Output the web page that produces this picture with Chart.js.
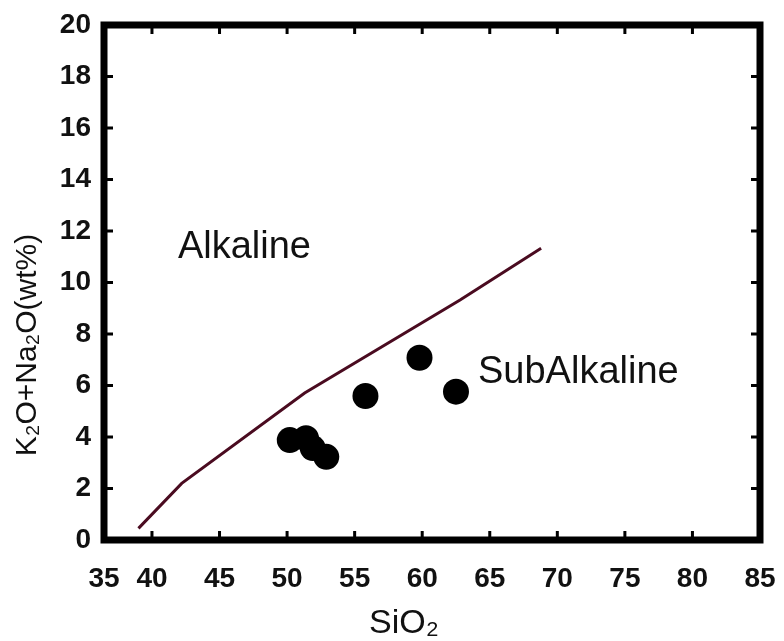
<!DOCTYPE html>
<html>
<head>
<meta charset="utf-8">
<script src="https://cdn.jsdelivr.net/npm/chart.js@4.4.1/dist/chart.umd.min.js"></script>
<style>
  html, body { margin: 0; padding: 0; background: #fff; }
  #wrap { width: 784px; height: 641px; }
</style>
</head>
<body>
<div id="wrap"><canvas id="tasChart"></canvas></div>
<script>
// SiO2 vs total alkali samples
const sampleSiO2 = [50.2, 51.4, 51.9, 52.9, 55.8, 59.8, 62.5];
const sampleAlkali = [3.88, 3.95, 3.57, 3.23, 5.59, 7.08, 5.76];

// alkaline / subalkaline dividing line
const divideSiO2 = [39.0, 42.2, 51.3, 62.8, 68.8];
const divideAlkali = [0.45, 2.2, 5.71, 9.32, 11.33];

// x axis: the printed "35" sits at the left edge of the frame
const xTickValues = [36.45, 40, 45, 50, 55, 60, 65, 70, 75, 80, 85];
const xTickLabels = ['35', '40', '45', '50', '55', '60', '65', '70', '75', '80', '85'];
const yTickValues = [0, 2, 4, 6, 8, 10, 12, 14, 16, 18, 20];

const fieldLabels = [
  { text: 'Alkaline', x: 41.92, y: 10.95 },
  { text: 'SubAlkaline', x: 64.13, y: 6.10 }
];
const xTitle = 'SiO₂';
const yTitle = 'K₂O+Na₂O(wt%)';

const tickFont = { family: "'Liberation Sans', Arial, sans-serif", size: 28, weight: 'bold' };

// thick frame with inward tick marks, field names and axis titles
const framePlugin = {
  id: 'frame',
  afterDraw(chart) {
    const { ctx, chartArea: a, scales } = chart;
    ctx.save();
    ctx.strokeStyle = '#000';
    ctx.lineWidth = 3;
    ctx.beginPath();
    scales.x.ticks.forEach(t => {
      const px = scales.x.getPixelForValue(t.value);
      ctx.moveTo(px, a.bottom); ctx.lineTo(px, a.bottom - 9);
      ctx.moveTo(px, a.top); ctx.lineTo(px, a.top + 9);
    });
    scales.y.ticks.forEach(t => {
      const py = scales.y.getPixelForValue(t.value);
      ctx.moveTo(a.left, py); ctx.lineTo(a.left + 9, py);
      ctx.moveTo(a.right, py); ctx.lineTo(a.right - 9, py);
    });
    ctx.stroke();
    ctx.lineWidth = 7;
    ctx.strokeRect(a.left, a.top, a.right - a.left, a.bottom - a.top);

    ctx.fillStyle = '#111';
    ctx.font = "38px 'Liberation Sans', Arial, sans-serif";
    ctx.textBaseline = 'alphabetic';
    ctx.textAlign = 'left';
    fieldLabels.forEach(l => {
      ctx.fillText(l.text, scales.x.getPixelForValue(l.x), scales.y.getPixelForValue(l.y));
    });

    ctx.textAlign = 'center';
    ctx.textBaseline = 'middle';
    ctx.font = "34px 'Liberation Sans', Arial, sans-serif";
    ctx.fillText(xTitle, 404, 624);
    ctx.translate(28, 345);
    ctx.rotate(-Math.PI / 2);
    ctx.font = "30px 'Liberation Sans', Arial, sans-serif";
    ctx.fillText(yTitle, 0, 0);
    ctx.restore();
  }
};

const ctx = document.getElementById('tasChart').getContext('2d');
const tasChart = new Chart(ctx, {
  type: 'scatter',
  data: {
    datasets: [{
      label: 'Divide',
      data: divideSiO2.map((x, i) => ({ x: x, y: divideAlkali[i] })),
      showLine: true,
      borderColor: '#4a0b20',
      borderWidth: 3,
      pointRadius: 0,
      fill: false
    }, {
      label: 'Samples',
      data: sampleSiO2.map((x, i) => ({ x: x, y: sampleAlkali[i] })),
      backgroundColor: '#000',
      borderWidth: 0,
      pointRadius: 13
    }]
  },
  options: {
    responsive: true,
    maintainAspectRatio: false,
    animation: false,
    layout: { padding: { top: 25, right: 24, left: 0, bottom: 0 } },
    plugins: {
      legend: { display: false },
      tooltip: { enabled: false }
    },
    scales: {
      x: {
        type: 'linear',
        min: 36.45,
        max: 85,
        afterBuildTicks: s => { s.ticks = xTickValues.map(v => ({ value: v })); },
        afterFit: s => { s.height = 101; s.paddingLeft = 0; s.paddingRight = 0; },
        grid: { display: false, drawTicks: false },
        border: { display: false },
        ticks: {
          color: '#111',
          font: tickFont,
          padding: 22,
          maxRotation: 0,
          autoSkip: false,
          callback: (v, i) => xTickLabels[i]
        }
      },
      y: {
        type: 'linear',
        min: 0,
        max: 20,
        afterBuildTicks: s => { s.ticks = yTickValues.map(v => ({ value: v })); },
        afterFit: s => { s.width = 104; s.paddingTop = 0; s.paddingBottom = 0; },
        grid: { display: false, drawTicks: false },
        border: { display: false },
        ticks: {
          color: '#111',
          font: tickFont,
          padding: 13,
          autoSkip: false
        }
      }
    }
  },
  plugins: [framePlugin]
});
</script>
</body>
</html>
